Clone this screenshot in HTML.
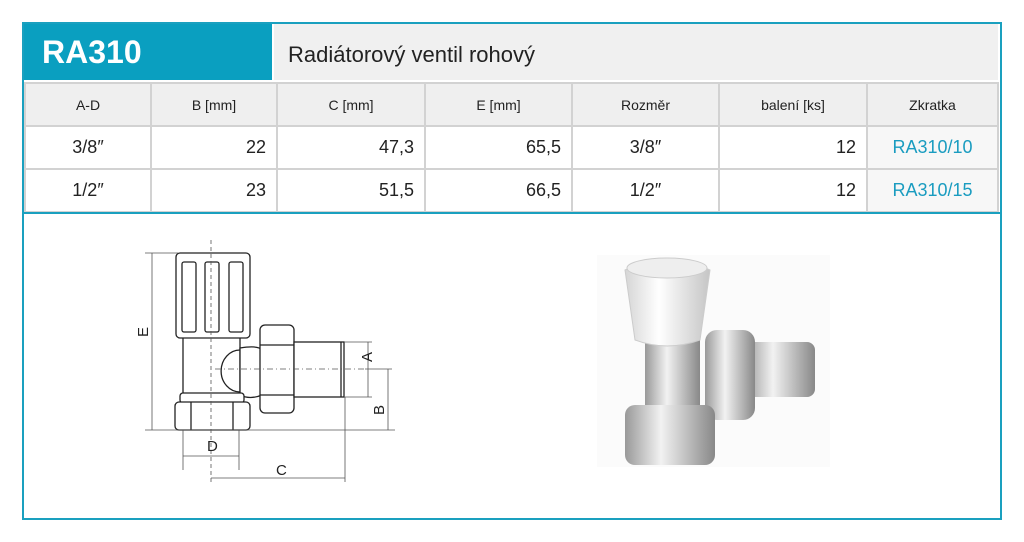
<!DOCTYPE html>
<html><head><meta charset="utf-8"><style>
body{margin:0;width:1024px;height:542px;background:#fff;font-family:"Liberation Sans",sans-serif;position:relative;overflow:hidden}
.a{position:absolute}
.box{left:22px;top:22px;width:976px;height:494px;border:2px solid #1aa0bf}
.hd{left:24px;top:24px;width:248px;height:56px;background:#0a9fc0;color:#fff;font-weight:bold;font-size:32px;line-height:56px;padding-left:18px;box-sizing:border-box}
.tt{left:274px;top:24px;width:724px;height:56px;background:#f0f0f0;font-size:22px;line-height:62px;padding-left:14px;box-sizing:border-box;color:#222}
table{position:absolute;left:24px;top:82px;border-collapse:collapse;width:975px}
td{border:2px solid #d2d2d2;height:41px;padding:0 10px;font-size:18px;color:#222}
tr.h td{background:#efefef;text-align:center;font-size:14px;height:41px}
td.r{text-align:right}td.c{text-align:center}td.z{color:#1a9cc0;text-align:center;background:#f7f7f7}
.line{left:24px;top:212px;width:976px;height:2px;background:#1aa0bf}
</style></head><body>
<div class="a box"></div>
<div class="a hd">RA310</div>
<div class="a tt">Radiátorový ventil rohový</div>
<table>
<tr class="h"><td style="width:104px">A-D</td><td style="width:104px">B [mm]</td><td style="width:126px">C [mm]</td><td style="width:125px">E [mm]</td><td style="width:125px">Rozměr</td><td style="width:126px">balení [ks]</td><td>Zkratka</td></tr>
<tr><td class="c">3/8″</td><td class="r">22</td><td class="r">47,3</td><td class="r">65,5</td><td class="c">3/8″</td><td class="r">12</td><td class="z">RA310/10</td></tr>
<tr><td class="c">1/2″</td><td class="r">23</td><td class="r">51,5</td><td class="r">66,5</td><td class="c">1/2″</td><td class="r">12</td><td class="z">RA310/15</td></tr>
</table>
<div class="a line"></div>
<svg class="a" style="left:0;top:0" width="1024" height="542">
<g fill="#fff" stroke="#222" stroke-width="1.3">
<rect x="183" y="335" width="57" height="70"/>
<path d="M240 348 Q258 345 262 350 L262 395 Q250 400 240 395Z"/>
<path d="M240 350 A18 20 0 0 0 240 392" fill="none"/>
<rect x="176" y="253" width="74" height="85" rx="4"/>
<rect x="182" y="262" width="14" height="70" rx="2"/>
<rect x="205" y="262" width="14" height="70" rx="2"/>
<rect x="229" y="262" width="14" height="70" rx="2"/>
<rect x="180" y="393" width="64" height="10" rx="3"/>
<rect x="175" y="402" width="75" height="28" rx="4"/>
<line x1="191" y1="402" x2="191" y2="430"/><line x1="233" y1="402" x2="233" y2="430"/>
<rect x="260" y="325" width="34" height="88" rx="5"/>
<line x1="260" y1="345" x2="294" y2="345"/><line x1="260" y1="395" x2="294" y2="395"/>
<rect x="294" y="342" width="50" height="55"/>
<line x1="341" y1="342" x2="341" y2="397"/>
</g>
<g stroke="#555" stroke-width="0.8" fill="none">
<line x1="211" y1="240" x2="211" y2="485" stroke-dasharray="4 3"/>
<line x1="215" y1="369" x2="365" y2="369" stroke-dasharray="6 3 1 3"/>
<line x1="145" y1="253" x2="178" y2="253"/><line x1="145" y1="430" x2="395" y2="430"/>
<line x1="152" y1="253" x2="152" y2="430"/>
<line x1="344" y1="342" x2="372" y2="342"/><line x1="344" y1="397" x2="372" y2="397"/>
<line x1="368" y1="342" x2="368" y2="397"/>
<line x1="365" y1="369" x2="392" y2="369"/><line x1="388" y1="369" x2="388" y2="430"/>
<line x1="183" y1="430" x2="183" y2="470"/><line x1="239" y1="430" x2="239" y2="470"/>
<line x1="183" y1="456" x2="239" y2="456"/>
<line x1="345" y1="397" x2="345" y2="482"/><line x1="211" y1="478" x2="345" y2="478"/>
</g>
<g font-size="15" fill="#222" font-family="Liberation Sans">
<text x="207" y="451">D</text><text x="276" y="475">C</text>
<text transform="translate(148,337) rotate(-90)">E</text>
<text transform="translate(372,362) rotate(-90)">A</text>
<text transform="translate(384,415) rotate(-90)">B</text>
</g>
<rect x="597" y="255" width="233" height="212" fill="#fbfbfb"/>
<defs><linearGradient id="ch" x1="0" x2="1"><stop offset="0" stop-color="#999"/><stop offset=".4" stop-color="#f2f2f2"/><stop offset="1" stop-color="#888"/></linearGradient>
<linearGradient id="wh" x1="0" x2="1"><stop offset="0" stop-color="#d5d5d5"/><stop offset=".4" stop-color="#fff"/><stop offset="1" stop-color="#c5c5c5"/></linearGradient></defs>
<rect x="745" y="342" width="70" height="55" rx="8" fill="url(#ch)"/>
<rect x="705" y="330" width="50" height="90" rx="12" fill="url(#ch)"/>
<rect x="645" y="330" width="55" height="90" fill="url(#ch)"/>
<rect x="625" y="405" width="90" height="60" rx="10" fill="url(#ch)"/>
<path d="M625 270 Q667 250 710 270 L700 340 Q667 352 635 340Z" fill="url(#wh)" stroke="#ccc"/>
<ellipse cx="667" cy="268" rx="40" ry="10" fill="#eee" stroke="#ccc"/>
</svg>
</body></html>
